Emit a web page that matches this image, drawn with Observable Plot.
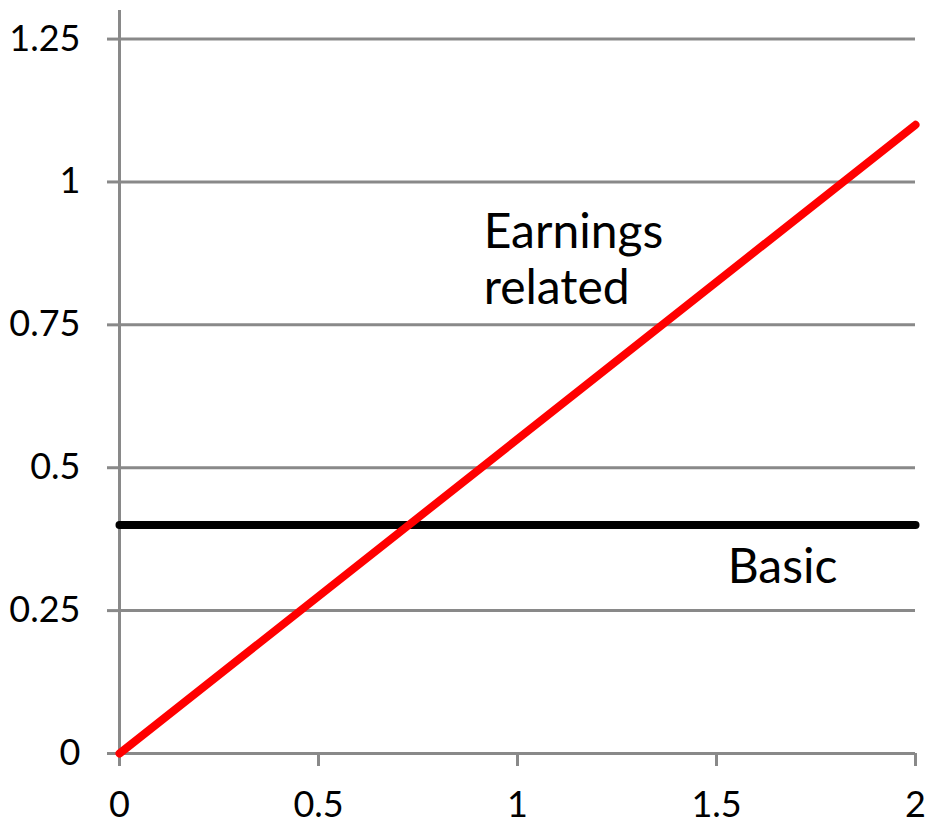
<!DOCTYPE html>
<html>
<head>
<meta charset="utf-8">
<script src="https://cdn.jsdelivr.net/npm/d3@7"></script>
<script src="https://cdn.jsdelivr.net/npm/@observablehq/plot@0.6"></script>
<style>
  html, body { margin: 0; padding: 0; background: #fff; }
  #chart svg { display: block; }
</style>
</head>
<body>
<div id="chart"></div>
<script>
// Pension schemes: benefit as a function of earnings
const earnings = [0, 2];
const earningsRelated = [0, 1.1];
const basic = [0.4, 0.4];

const xTicks = [0, 0.5, 1, 1.5, 2];
const yTicks = [0, 0.25, 0.5, 0.75, 1, 1.25];

const labels = [
  {x: 0.915, y: 0.786, text: "Earnings\nrelated"},
  {x: 1.528, y: 0.298, text: "Basic"}
];

const lineData = (ys) => earnings.map((x, i) => ({x, y: ys[i]}));
const grey = "#898989";

const chart = Plot.plot({
  width: 928,
  height: 824,
  marginLeft: 119,
  marginRight: 13,
  marginTop: 10,
  marginBottom: 71,
  style: {fontFamily: "Lato, sans-serif", fontSize: "36px", color: "#000", background: "#fff"},
  x: {domain: [0, 2]},
  y: {domain: [0, 1.3]},
  marks: [
    Plot.gridY(yTicks, {stroke: grey, strokeOpacity: 1, strokeWidth: 3}),
    Plot.axisY(yTicks, {
      tickSize: 12, tickPadding: 27, stroke: grey, strokeWidth: 3, strokeOpacity: 1,
      fill: "#000", fontSize: 36, tickFormat: d => String(d), label: null
    }),
    Plot.axisX(xTicks, {
      tickSize: 13, tickPadding: 25, stroke: grey, strokeWidth: 3, strokeOpacity: 1,
      fill: "#000", fontSize: 36, tickFormat: d => String(d), label: null
    }),
    Plot.ruleX([0], {stroke: grey, strokeWidth: 3}),
    Plot.line(lineData(basic), {x: "x", y: "y", stroke: "#000", strokeWidth: 8, strokeLinecap: "round"}),
    Plot.line(lineData(earningsRelated), {x: "x", y: "y", stroke: "#ff0000", strokeWidth: 8, strokeLinecap: "round"}),
    Plot.text(labels, {
      x: "x", y: "y", text: "text", textAnchor: "start", lineAnchor: "bottom",
      lineHeight: 1.17, fontSize: 48, fill: "#000"
    })
  ]
});

document.getElementById("chart").appendChild(chart);
</script>
</body>
</html>
